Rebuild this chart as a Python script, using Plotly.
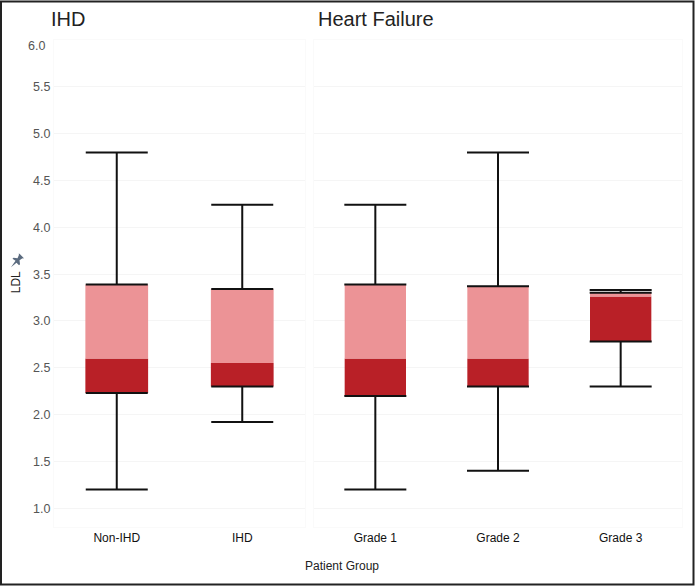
import plotly.graph_objects as go
from plotly.subplots import make_subplots

# 箱线图数据
ihd_groups = ['Non-IHD', 'IHD']
hf_groups = ['Grade 1', 'Grade 2', 'Grade 3']

ihd_lower = [1.2, 1.92]
ihd_q1 = [2.23, 2.3]
ihd_median = [2.6, 2.55]
ihd_q3 = [3.39, 3.34]
ihd_upper = [4.8, 4.24]

hf_lower = [1.2, 1.4, 2.3]
hf_q1 = [2.2, 2.3, 2.78]
hf_median = [2.6, 2.6, 3.26]
hf_q3 = [3.39, 3.37, 3.3]
hf_upper = [4.24, 4.8, 3.33]

y_ticks = [1.0, 1.5, 2.0, 2.5, 3.0, 3.5, 4.0, 4.5, 5.0, 5.5]

WIDTH, HEIGHT = 695, 586
LEFT, RIGHT, TOP, BOTTOM = 54, 13, 39.5, 59
PLOT_W = WIDTH - LEFT - RIGHT
PLOT_H = HEIGHT - TOP - BOTTOM

DARK = '#b92027'
LIGHT = '#ec9396'
FONT = 'Liberation Sans'


def px_x(x):
    return (x - LEFT) / PLOT_W


def px_y(y):
    return 1 - (y - TOP) / PLOT_H


def add_boxes(fig, col, groups, lower, q1, median, q3, upper):
    # 下半箱（深色）
    fig.add_trace(go.Bar(
        x=groups, y=[m - q for m, q in zip(median, q1)], base=q1,
        width=0.5, marker_color=DARK, marker_line_width=0
    ), row=1, col=col)
    # 上半箱（浅色）
    fig.add_trace(go.Bar(
        x=groups, y=[q - m for q, m in zip(q3, median)], base=median,
        width=0.5, marker_color=LIGHT, marker_line_width=0
    ), row=1, col=col)
    # 上须
    fig.add_trace(go.Scatter(
        x=groups, y=q3, mode='markers', marker=dict(size=1, opacity=0),
        error_y=dict(type='data', symmetric=False,
                     array=[u - q for u, q in zip(upper, q3)],
                     arrayminus=[0] * len(groups),
                     width=31, thickness=2, color='#111111')
    ), row=1, col=col)
    # 下须
    fig.add_trace(go.Scatter(
        x=groups, y=q1, mode='markers', marker=dict(size=1, opacity=0),
        error_y=dict(type='data', symmetric=False,
                     array=[0] * len(groups),
                     arrayminus=[q - l for q, l in zip(q1, lower)],
                     width=31, thickness=2, color='#111111')
    ), row=1, col=col)


fig = make_subplots(
    rows=1, cols=2, shared_yaxes=True,
    column_widths=[251, 368], horizontal_spacing=9 / PLOT_W
)

add_boxes(fig, 1, ihd_groups, ihd_lower, ihd_q1, ihd_median, ihd_q3, ihd_upper)
add_boxes(fig, 2, hf_groups, hf_lower, hf_q1, hf_median, hf_q3, hf_upper)

fig.update_xaxes(
    showgrid=False, ticks='', zeroline=False,
    showline=True, linecolor='#fafafa', linewidth=1, mirror=True,
    tickfont=dict(family=FONT, size=12, color='#111111')
)
fig.update_yaxes(
    range=[0.8, 6.0], tickvals=y_ticks, ticktext=[f'{v:.1f}' for v in y_ticks],
    showgrid=True, gridcolor='#f5f5f5', gridwidth=1, zeroline=False, ticks='',
    showline=True, linecolor='#fafafa', linewidth=1, mirror=True,
    tickfont=dict(family=FONT, size=12.5, color='#555555')
)
fig.update_yaxes(ticklen=0)

label_font = dict(family=FONT, size=12, color='#222222')
annotations = [
    dict(text='IHD', xref='paper', yref='paper', x=px_x(49), y=px_y(18),
         xanchor='left', yanchor='middle', showarrow=False,
         font=dict(family=FONT, size=20, color='#222222')),
    dict(text='Heart Failure', xref='paper', yref='paper', x=px_x(316), y=px_y(18),
         xanchor='left', yanchor='middle', showarrow=False,
         font=dict(family=FONT, size=20, color='#222222')),
    # 顶部刻度标签比网格线略低
    dict(text='6.0', xref='paper', yref='paper', x=px_x(46.5), y=px_y(46),
         xanchor='right', yanchor='middle', showarrow=False,
         font=dict(family=FONT, size=12.5, color='#555555')),
    dict(text='Patient Group', xref='paper', yref='paper', x=px_x(342), y=px_y(566),
         xanchor='center', yanchor='middle', showarrow=False, font=label_font),
    dict(text='LDL', xref='paper', yref='paper', x=px_x(16), y=px_y(282),
         xanchor='center', yanchor='middle', showarrow=False, textangle=-90,
         font=label_font),
]

# 图钉图标
pin = [(11, 267), (15.5, 260.5), (12.5, 258.5), (13.5, 257.5), (17.5, 258), (19, 254.5),
       (18.5, 253.5), (19.5, 253.5), (23.5, 257.5), (23.5, 258.5), (22.5, 258),
       (19.5, 260), (20, 264), (19, 265), (16.5, 262.5)]
pin_path = 'M ' + ' L '.join(f'{px_x(x):.4f} {px_y(y):.4f}' for x, y in pin) + ' Z'

shapes = [
    dict(type='path', xref='paper', yref='paper', path=pin_path,
         fillcolor='#5b6b7f', line_width=0),
    # 图片外框
    dict(type='rect', xref='paper', yref='paper',
         x0=px_x(1), x1=px_x(693.5), y0=px_y(584.5), y1=px_y(1),
         line=dict(color='#222222', width=2), fillcolor='rgba(0,0,0,0)'),
]

fig.update_layout(
    width=WIDTH, height=HEIGHT,
    margin=dict(l=LEFT, r=RIGHT, t=TOP, b=BOTTOM),
    template='plotly_white',
    barmode='overlay', bargap=0.5,
    showlegend=False,
    paper_bgcolor='white', plot_bgcolor='white',
    annotations=annotations, shapes=shapes
)

# 去掉页面默认边距，让图表贴齐窗口
fig.write_html("out.html", config={'displayModeBar': False},
               post_script="document.body.style.margin='0';")
